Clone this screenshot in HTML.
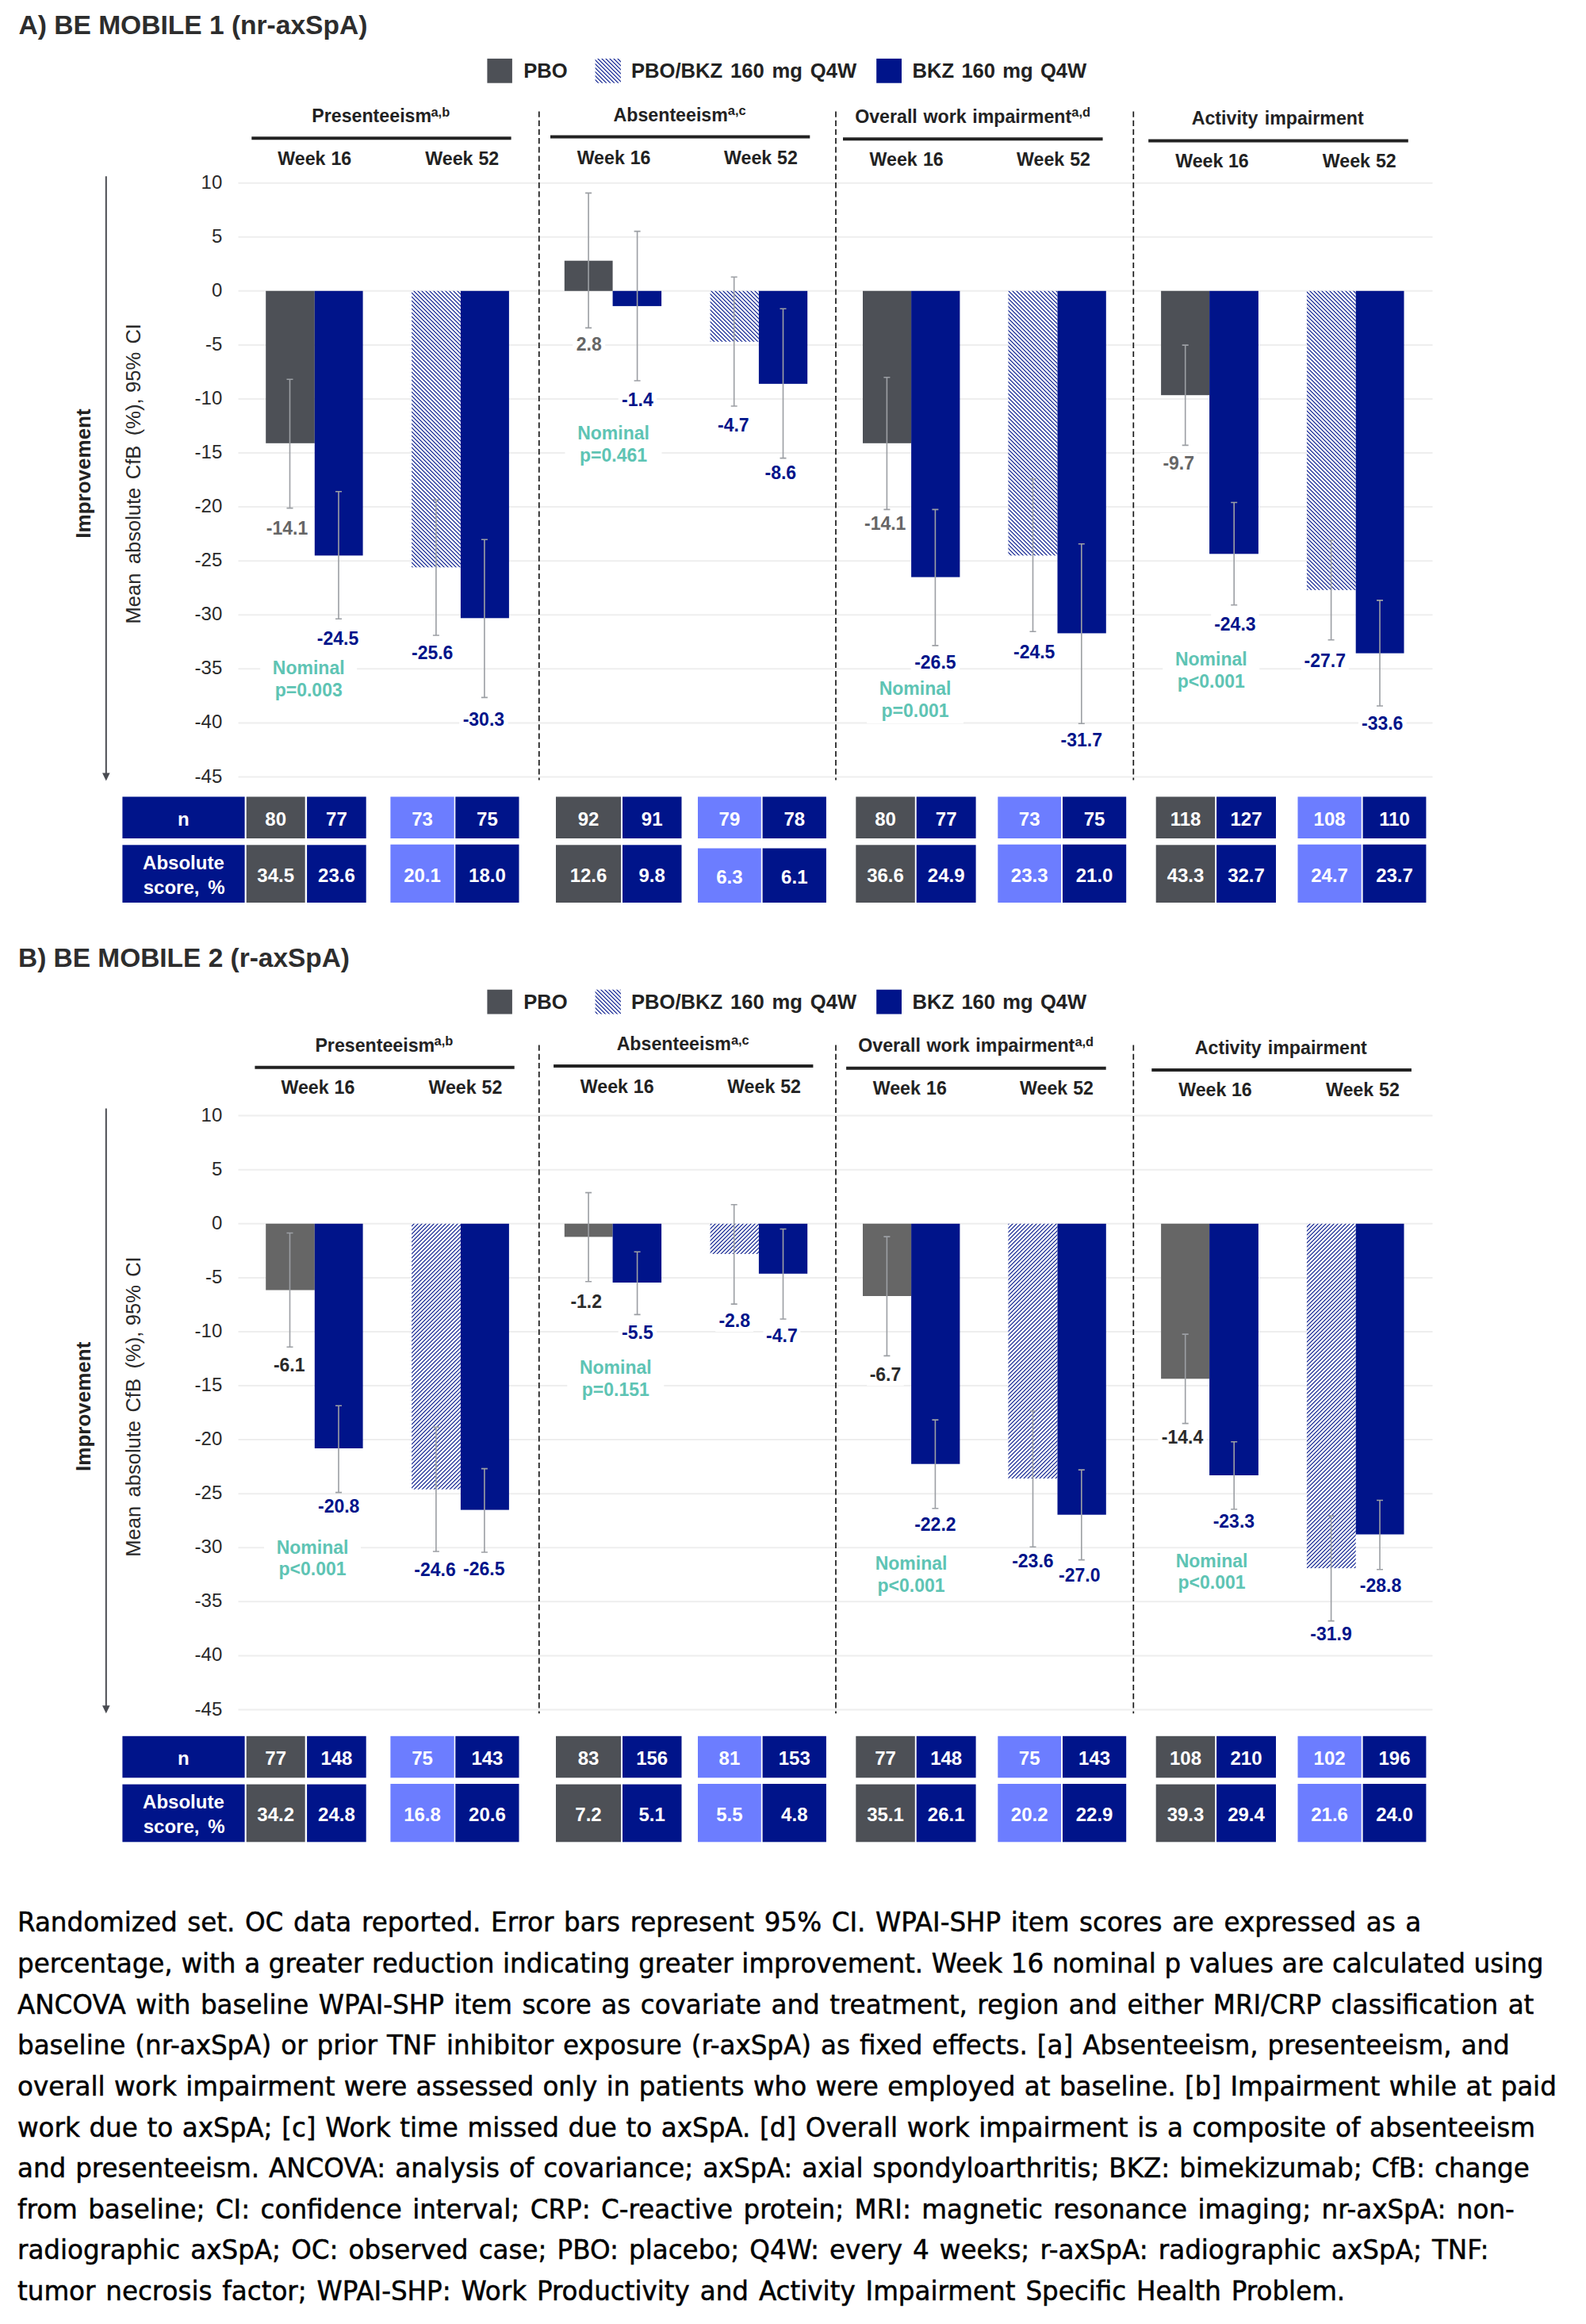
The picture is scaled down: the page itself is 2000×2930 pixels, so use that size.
<!DOCTYPE html>
<html lang="en"><head><meta charset="utf-8"><title>BE MOBILE WPAI-SHP</title>
<style>
html,body{margin:0;padding:0;background:#fff}
body{width:2000px;height:2930px;overflow:hidden}
svg{display:block;position:absolute;left:0;top:0}
svg text{font-family:"Liberation Sans",Arial,sans-serif}
svg .fn text{font-family:"DejaVu Sans","Liberation Sans",sans-serif;font-size:33.3px;fill:#000;stroke:#000;stroke-width:0.5px}
</style></head><body>
<svg width="2000" height="2930" viewBox="0 0 2000 2930">
<defs>
<pattern id="hA" width="5" height="5" patternUnits="userSpaceOnUse"><rect width="5" height="5" fill="#fff"/><path d="M-1 -1L6 6M-1 4L1 6M4 -1L6 1" stroke="#00148A" stroke-width="1.15"/></pattern>
<pattern id="hB" width="5" height="5" patternUnits="userSpaceOnUse"><rect width="5" height="5" fill="#fff"/><path d="M-1 6L6 -1M-1 1L1 -1M4 6L6 4" stroke="#00148A" stroke-width="1.15"/></pattern>
</defs>
<rect width="2000" height="2930" fill="#fff"/>
<text x="23.5" y="42.5" font-size="33.55" font-weight="bold" fill="#2D2D2D">A) BE MOBILE 1 (nr-axSpA)</text>
<text x="23.0" y="1218.5" font-size="33.45" font-weight="bold" fill="#2D2D2D">B) BE MOBILE 2 (r-axSpA)</text>
<rect x="614.4" y="73.9" width="31.5" height="30.8" fill="#4D5056"/>
<rect x="750.6" y="73.9" width="32.3" height="30.8" fill="url(#hA)"/>
<rect x="1105.2" y="73.9" width="31.8" height="30.8" fill="#00148A"/>
<text x="687.9" y="97.9" font-size="25.6" fill="#222" text-anchor="middle" font-weight="bold">PBO</text>
<text x="938.1" y="97.9" font-size="25.6" fill="#222" text-anchor="middle" font-weight="bold" word-spacing="2.75">PBO/BKZ 160 mg Q4W</text>
<text x="1260.4" y="97.9" font-size="25.6" fill="#222" text-anchor="middle" font-weight="bold" word-spacing="2.11">BKZ 160 mg Q4W</text>
<rect x="614.4" y="1247.7" width="31.5" height="30.8" fill="#4D5056"/>
<rect x="750.6" y="1247.7" width="32.3" height="30.8" fill="url(#hA)"/>
<rect x="1105.2" y="1247.7" width="31.8" height="30.8" fill="#00148A"/>
<text x="687.9" y="1271.7" font-size="25.6" fill="#222" text-anchor="middle" font-weight="bold">PBO</text>
<text x="938.1" y="1271.7" font-size="25.6" fill="#222" text-anchor="middle" font-weight="bold" word-spacing="2.75">PBO/BKZ 160 mg Q4W</text>
<text x="1260.4" y="1271.7" font-size="25.6" fill="#222" text-anchor="middle" font-weight="bold" word-spacing="2.11">BKZ 160 mg Q4W</text>
<text x="468.7" y="154.0" font-size="23.2" fill="#222" text-anchor="middle" font-weight="bold">Presenteeism</text>
<text x="543.5" y="146.5" font-size="16.4" font-weight="bold" fill="#222">a,b</text>
<line x1="317.3" x2="644.6" y1="174.2" y2="174.2" stroke="#222" stroke-width="4"/>
<text x="396.8" y="207.6" font-size="23.2" fill="#222" text-anchor="middle" font-weight="bold" word-spacing="0.46">Week 16</text>
<text x="582.8" y="207.6" font-size="23.2" fill="#222" text-anchor="middle" font-weight="bold" word-spacing="0.46">Week 52</text>
<text x="845.7" y="152.8" font-size="23.2" fill="#222" text-anchor="middle" font-weight="bold">Absenteeism</text>
<text x="917.8" y="145.3" font-size="16.4" font-weight="bold" fill="#222">a,c</text>
<line x1="694.0" x2="1021.3" y1="172.5" y2="172.5" stroke="#222" stroke-width="4"/>
<text x="774.1" y="206.5" font-size="23.2" fill="#222" text-anchor="middle" font-weight="bold" word-spacing="0.46">Week 16</text>
<text x="959.5" y="206.5" font-size="23.2" fill="#222" text-anchor="middle" font-weight="bold" word-spacing="0.46">Week 52</text>
<text x="1214.7" y="154.7" font-size="23.2" fill="#222" text-anchor="middle" font-weight="bold" word-spacing="1.22">Overall work impairment</text>
<text x="1351.3" y="147.2" font-size="16.4" font-weight="bold" fill="#222">a,d</text>
<line x1="1063.0" x2="1390.6" y1="175.3" y2="175.3" stroke="#222" stroke-width="4"/>
<text x="1143.2" y="208.9" font-size="23.2" fill="#222" text-anchor="middle" font-weight="bold" word-spacing="0.76">Week 16</text>
<text x="1328.5" y="208.9" font-size="23.2" fill="#222" text-anchor="middle" font-weight="bold" word-spacing="0.56">Week 52</text>
<text x="1611.2" y="157.2" font-size="23.2" fill="#222" text-anchor="middle" font-weight="bold" word-spacing="1.80">Activity impairment</text>
<line x1="1448.2" x2="1775.8" y1="177.5" y2="177.5" stroke="#222" stroke-width="4"/>
<text x="1528.5" y="210.8" font-size="23.2" fill="#222" text-anchor="middle" font-weight="bold" word-spacing="0.16">Week 16</text>
<text x="1714.3" y="210.8" font-size="23.2" fill="#222" text-anchor="middle" font-weight="bold" word-spacing="0.46">Week 52</text>
<text x="472.8" y="1325.5" font-size="23.2" fill="#222" text-anchor="middle" font-weight="bold">Presenteeism</text>
<text x="547.6" y="1318.0" font-size="16.4" font-weight="bold" fill="#222">a,b</text>
<line x1="321.4" x2="648.7" y1="1345.7" y2="1345.7" stroke="#222" stroke-width="4"/>
<text x="400.9" y="1379.1" font-size="23.2" fill="#222" text-anchor="middle" font-weight="bold" word-spacing="0.46">Week 16</text>
<text x="586.9" y="1379.1" font-size="23.2" fill="#222" text-anchor="middle" font-weight="bold" word-spacing="0.46">Week 52</text>
<text x="849.8" y="1324.3" font-size="23.2" fill="#222" text-anchor="middle" font-weight="bold">Absenteeism</text>
<text x="921.9" y="1316.8" font-size="16.4" font-weight="bold" fill="#222">a,c</text>
<line x1="698.1" x2="1025.4" y1="1344.0" y2="1344.0" stroke="#222" stroke-width="4"/>
<text x="778.2" y="1378.0" font-size="23.2" fill="#222" text-anchor="middle" font-weight="bold" word-spacing="0.46">Week 16</text>
<text x="963.6" y="1378.0" font-size="23.2" fill="#222" text-anchor="middle" font-weight="bold" word-spacing="0.46">Week 52</text>
<text x="1218.8" y="1326.2" font-size="23.2" fill="#222" text-anchor="middle" font-weight="bold" word-spacing="1.22">Overall work impairment</text>
<text x="1355.4" y="1318.7" font-size="16.4" font-weight="bold" fill="#222">a,d</text>
<line x1="1067.1" x2="1394.7" y1="1346.8" y2="1346.8" stroke="#222" stroke-width="4"/>
<text x="1147.3" y="1380.4" font-size="23.2" fill="#222" text-anchor="middle" font-weight="bold" word-spacing="0.76">Week 16</text>
<text x="1332.5" y="1380.4" font-size="23.2" fill="#222" text-anchor="middle" font-weight="bold" word-spacing="0.56">Week 52</text>
<text x="1615.3" y="1328.7" font-size="23.2" fill="#222" text-anchor="middle" font-weight="bold" word-spacing="1.80">Activity impairment</text>
<line x1="1452.3" x2="1779.9" y1="1349.0" y2="1349.0" stroke="#222" stroke-width="4"/>
<text x="1532.5" y="1382.3" font-size="23.2" fill="#222" text-anchor="middle" font-weight="bold" word-spacing="0.16">Week 16</text>
<text x="1718.4" y="1382.3" font-size="23.2" fill="#222" text-anchor="middle" font-weight="bold" word-spacing="0.46">Week 52</text>
<line x1="300.5" x2="1806.5" y1="230.7" y2="230.7" stroke="#EEEEEE" stroke-width="2"/>
<text x="280.3" y="237.7" font-size="24" fill="#2A2A2A" text-anchor="end">10</text>
<line x1="300.5" x2="1806.5" y1="298.7" y2="298.7" stroke="#EEEEEE" stroke-width="2"/>
<text x="280.3" y="305.7" font-size="24" fill="#2A2A2A" text-anchor="end">5</text>
<line x1="300.5" x2="1806.5" y1="366.8" y2="366.8" stroke="#EEEEEE" stroke-width="2"/>
<text x="280.3" y="373.8" font-size="24" fill="#2A2A2A" text-anchor="end">0</text>
<line x1="300.5" x2="1806.5" y1="434.9" y2="434.9" stroke="#EEEEEE" stroke-width="2"/>
<text x="280.3" y="441.9" font-size="24" fill="#2A2A2A" text-anchor="end">-5</text>
<line x1="300.5" x2="1806.5" y1="503.0" y2="503.0" stroke="#EEEEEE" stroke-width="2"/>
<text x="280.3" y="510.0" font-size="24" fill="#2A2A2A" text-anchor="end">-10</text>
<line x1="300.5" x2="1806.5" y1="571.0" y2="571.0" stroke="#EEEEEE" stroke-width="2"/>
<text x="280.3" y="578.0" font-size="24" fill="#2A2A2A" text-anchor="end">-15</text>
<line x1="300.5" x2="1806.5" y1="639.1" y2="639.1" stroke="#EEEEEE" stroke-width="2"/>
<text x="280.3" y="646.1" font-size="24" fill="#2A2A2A" text-anchor="end">-20</text>
<line x1="300.5" x2="1806.5" y1="707.2" y2="707.2" stroke="#EEEEEE" stroke-width="2"/>
<text x="280.3" y="714.2" font-size="24" fill="#2A2A2A" text-anchor="end">-25</text>
<line x1="300.5" x2="1806.5" y1="775.2" y2="775.2" stroke="#EEEEEE" stroke-width="2"/>
<text x="280.3" y="782.2" font-size="24" fill="#2A2A2A" text-anchor="end">-30</text>
<line x1="300.5" x2="1806.5" y1="843.3" y2="843.3" stroke="#EEEEEE" stroke-width="2"/>
<text x="280.3" y="850.3" font-size="24" fill="#2A2A2A" text-anchor="end">-35</text>
<line x1="300.5" x2="1806.5" y1="911.4" y2="911.4" stroke="#EEEEEE" stroke-width="2"/>
<text x="280.3" y="918.4" font-size="24" fill="#2A2A2A" text-anchor="end">-40</text>
<line x1="300.5" x2="1806.5" y1="979.5" y2="979.5" stroke="#EEEEEE" stroke-width="2"/>
<text x="280.3" y="986.5" font-size="24" fill="#2A2A2A" text-anchor="end">-45</text>
<rect x="332.5" y="652.5" width="59.0" height="27.0" fill="#fff"/>
<rect x="395.2" y="791.8" width="61.6" height="27.0" fill="#fff"/>
<rect x="514.6" y="810.3" width="61.2" height="27.0" fill="#fff"/>
<rect x="579.2" y="893.8" width="61.4" height="27.0" fill="#fff"/>
<rect x="722.2" y="420.6" width="41.0" height="27.0" fill="#fff"/>
<rect x="779.7" y="490.5" width="48.3" height="27.0" fill="#fff"/>
<rect x="901.5" y="522.8" width="46.5" height="27.0" fill="#fff"/>
<rect x="960.0" y="583.2" width="48.6" height="27.0" fill="#fff"/>
<rect x="1086.3" y="647.1" width="59.7" height="27.0" fill="#fff"/>
<rect x="1148.6" y="821.9" width="61.7" height="27.0" fill="#fff"/>
<rect x="1273.4" y="808.5" width="61.6" height="27.0" fill="#fff"/>
<rect x="1333.5" y="919.5" width="60.5" height="27.0" fill="#fff"/>
<rect x="1462.9" y="571.2" width="46.6" height="27.0" fill="#fff"/>
<rect x="1527.2" y="773.7" width="60.4" height="27.0" fill="#fff"/>
<rect x="1640.9" y="820.4" width="59.9" height="27.0" fill="#fff"/>
<rect x="1713.0" y="899.3" width="60.5" height="27.0" fill="#fff"/>
<rect x="328.2" y="829.4" width="122.0" height="56.6" fill="#fff"/>
<rect x="712.5" y="532.8" width="122.0" height="56.8" fill="#fff"/>
<rect x="1093.0" y="855.2" width="122.0" height="56.7" fill="#fff"/>
<rect x="1466.3" y="818.1" width="122.0" height="56.7" fill="#fff"/>
<line x1="679.8" x2="679.8" y1="140.5" y2="983.5" stroke="#1a1a1a" stroke-width="1.7" stroke-dasharray="7.2 4"/>
<line x1="1054.0" x2="1054.0" y1="140.5" y2="983.5" stroke="#1a1a1a" stroke-width="1.7" stroke-dasharray="7.2 4"/>
<line x1="1429.3" x2="1429.3" y1="140.5" y2="983.5" stroke="#1a1a1a" stroke-width="1.7" stroke-dasharray="7.2 4"/>
<rect x="335.2" y="366.8" width="61.6" height="192.0" fill="#4D5056"/>
<rect x="396.8" y="366.8" width="60.8" height="333.6" fill="#00148A"/>
<rect x="519.1" y="366.8" width="61.8" height="348.5" fill="url(#hA)"/>
<rect x="580.9" y="366.8" width="61.0" height="412.5" fill="#00148A"/>
<rect x="711.8" y="328.7" width="60.8" height="38.1" fill="#4D5056"/>
<rect x="772.6" y="366.8" width="61.5" height="19.1" fill="#00148A"/>
<rect x="895.6" y="366.8" width="61.3" height="64.0" fill="url(#hA)"/>
<rect x="956.9" y="366.8" width="61.3" height="117.1" fill="#00148A"/>
<rect x="1088.0" y="366.8" width="61.1" height="192.0" fill="#4D5056"/>
<rect x="1149.1" y="366.8" width="61.3" height="360.8" fill="#00148A"/>
<rect x="1271.4" y="366.8" width="62.1" height="333.6" fill="url(#hA)"/>
<rect x="1333.5" y="366.8" width="61.3" height="431.6" fill="#00148A"/>
<rect x="1464.1" y="366.8" width="61.0" height="131.4" fill="#4D5056"/>
<rect x="1525.1" y="366.8" width="61.8" height="331.5" fill="#00148A"/>
<rect x="1647.9" y="366.8" width="61.8" height="377.1" fill="url(#hA)"/>
<rect x="1709.7" y="366.8" width="60.8" height="456.8" fill="#00148A"/>
<path d="M365.5 478.2V640.6M361.5 478.2h8M361.5 640.6h8" stroke="#9C9FA4" stroke-width="1.6" fill="none"/>
<path d="M427.0 619.7V780.3M423.0 619.7h8M423.0 780.3h8" stroke="#9C9FA4" stroke-width="1.6" fill="none"/>
<path d="M549.9 630.3V801.0M545.9 630.3h8M545.9 801.0h8" stroke="#9C9FA4" stroke-width="1.6" fill="none"/>
<path d="M610.9 680.2V879.4M606.9 680.2h8M606.9 879.4h8" stroke="#9C9FA4" stroke-width="1.6" fill="none"/>
<path d="M742.1 243.4V413.4M738.1 243.4h8M738.1 413.4h8" stroke="#9C9FA4" stroke-width="1.6" fill="none"/>
<path d="M803.6 291.6V480.0M799.6 291.6h8M799.6 480.0h8" stroke="#9C9FA4" stroke-width="1.6" fill="none"/>
<path d="M925.7 349.3V512.0M921.7 349.3h8M921.7 512.0h8" stroke="#9C9FA4" stroke-width="1.6" fill="none"/>
<path d="M987.5 389.2V577.6M983.5 389.2h8M983.5 577.6h8" stroke="#9C9FA4" stroke-width="1.6" fill="none"/>
<path d="M1118.4 475.7V642.4M1114.4 475.7h8M1114.4 642.4h8" stroke="#9C9FA4" stroke-width="1.6" fill="none"/>
<path d="M1179.4 642.4V813.9M1175.4 642.4h8M1175.4 813.9h8" stroke="#9C9FA4" stroke-width="1.6" fill="none"/>
<path d="M1302.5 603.8V796.2M1298.5 603.8h8M1298.5 796.2h8" stroke="#9C9FA4" stroke-width="1.6" fill="none"/>
<path d="M1363.8 685.8V912.2M1359.8 685.8h8M1359.8 912.2h8" stroke="#9C9FA4" stroke-width="1.6" fill="none"/>
<path d="M1494.7 435.1V561.4M1490.7 435.1h8M1490.7 561.4h8" stroke="#9C9FA4" stroke-width="1.6" fill="none"/>
<path d="M1556.2 633.5V762.7M1552.2 633.5h8M1552.2 762.7h8" stroke="#9C9FA4" stroke-width="1.6" fill="none"/>
<path d="M1678.6 681.3V806.8M1674.6 681.3h8M1674.6 806.8h8" stroke="#9C9FA4" stroke-width="1.6" fill="none"/>
<path d="M1740.0 756.9V890.0M1736.0 756.9h8M1736.0 890.0h8" stroke="#9C9FA4" stroke-width="1.6" fill="none"/>
<text x="362.0" y="673.5" font-size="23" fill="#666666" text-anchor="middle" font-weight="bold">-14.1</text>
<text x="426.0" y="812.8" font-size="23" fill="#00148A" text-anchor="middle" font-weight="bold">-24.5</text>
<text x="545.2" y="831.3" font-size="23" fill="#00148A" text-anchor="middle" font-weight="bold">-25.6</text>
<text x="609.9" y="914.8" font-size="23" fill="#00148A" text-anchor="middle" font-weight="bold">-30.3</text>
<text x="742.7" y="441.6" font-size="23" fill="#666666" text-anchor="middle" font-weight="bold">2.8</text>
<text x="803.9" y="511.5" font-size="23" fill="#00148A" text-anchor="middle" font-weight="bold">-1.4</text>
<text x="924.8" y="543.8" font-size="23" fill="#00148A" text-anchor="middle" font-weight="bold">-4.7</text>
<text x="984.3" y="604.2" font-size="23" fill="#00148A" text-anchor="middle" font-weight="bold">-8.6</text>
<text x="1116.2" y="668.1" font-size="23" fill="#666666" text-anchor="middle" font-weight="bold">-14.1</text>
<text x="1179.4" y="842.9" font-size="23" fill="#00148A" text-anchor="middle" font-weight="bold">-26.5</text>
<text x="1304.2" y="829.5" font-size="23" fill="#00148A" text-anchor="middle" font-weight="bold">-24.5</text>
<text x="1363.8" y="940.5" font-size="23" fill="#00148A" text-anchor="middle" font-weight="bold">-31.7</text>
<text x="1486.2" y="592.2" font-size="23" fill="#666666" text-anchor="middle" font-weight="bold">-9.7</text>
<text x="1557.4" y="794.7" font-size="23" fill="#00148A" text-anchor="middle" font-weight="bold">-24.3</text>
<text x="1670.8" y="841.4" font-size="23" fill="#00148A" text-anchor="middle" font-weight="bold">-27.7</text>
<text x="1743.2" y="920.3" font-size="23" fill="#00148A" text-anchor="middle" font-weight="bold">-33.6</text>
<text x="389.2" y="850.4" font-size="23" fill="#5EC4B4" text-anchor="middle" font-weight="bold">Nominal</text>
<text x="389.2" y="878.0" font-size="23" fill="#5EC4B4" text-anchor="middle" font-weight="bold">p=0.003</text>
<text x="773.5" y="553.8" font-size="23" fill="#5EC4B4" text-anchor="middle" font-weight="bold">Nominal</text>
<text x="773.5" y="581.6" font-size="23" fill="#5EC4B4" text-anchor="middle" font-weight="bold">p=0.461</text>
<text x="1154.0" y="876.2" font-size="23" fill="#5EC4B4" text-anchor="middle" font-weight="bold">Nominal</text>
<text x="1154.0" y="903.9" font-size="23" fill="#5EC4B4" text-anchor="middle" font-weight="bold">p=0.001</text>
<text x="1527.3" y="839.1" font-size="23" fill="#5EC4B4" text-anchor="middle" font-weight="bold">Nominal</text>
<text x="1527.3" y="866.8" font-size="23" fill="#5EC4B4" text-anchor="middle" font-weight="bold">p&lt;0.001</text>
<line x1="133.8" x2="133.8" y1="222.2" y2="976.6" stroke="#494B51" stroke-width="2"/>
<path d="M129 974.6h9.6l-4.8 10z" fill="#494B51"/>
<line x1="300.5" x2="1806.5" y1="1406.6" y2="1406.6" stroke="#EEEEEE" stroke-width="2"/>
<text x="280.3" y="1413.6" font-size="24" fill="#2A2A2A" text-anchor="end">10</text>
<line x1="300.5" x2="1806.5" y1="1474.7" y2="1474.7" stroke="#EEEEEE" stroke-width="2"/>
<text x="280.3" y="1481.7" font-size="24" fill="#2A2A2A" text-anchor="end">5</text>
<line x1="300.5" x2="1806.5" y1="1542.8" y2="1542.8" stroke="#EEEEEE" stroke-width="2"/>
<text x="280.3" y="1549.8" font-size="24" fill="#2A2A2A" text-anchor="end">0</text>
<line x1="300.5" x2="1806.5" y1="1610.9" y2="1610.9" stroke="#EEEEEE" stroke-width="2"/>
<text x="280.3" y="1617.9" font-size="24" fill="#2A2A2A" text-anchor="end">-5</text>
<line x1="300.5" x2="1806.5" y1="1679.0" y2="1679.0" stroke="#EEEEEE" stroke-width="2"/>
<text x="280.3" y="1686.0" font-size="24" fill="#2A2A2A" text-anchor="end">-10</text>
<line x1="300.5" x2="1806.5" y1="1747.0" y2="1747.0" stroke="#EEEEEE" stroke-width="2"/>
<text x="280.3" y="1754.0" font-size="24" fill="#2A2A2A" text-anchor="end">-15</text>
<line x1="300.5" x2="1806.5" y1="1815.1" y2="1815.1" stroke="#EEEEEE" stroke-width="2"/>
<text x="280.3" y="1822.1" font-size="24" fill="#2A2A2A" text-anchor="end">-20</text>
<line x1="300.5" x2="1806.5" y1="1883.2" y2="1883.2" stroke="#EEEEEE" stroke-width="2"/>
<text x="280.3" y="1890.2" font-size="24" fill="#2A2A2A" text-anchor="end">-25</text>
<line x1="300.5" x2="1806.5" y1="1951.2" y2="1951.2" stroke="#EEEEEE" stroke-width="2"/>
<text x="280.3" y="1958.2" font-size="24" fill="#2A2A2A" text-anchor="end">-30</text>
<line x1="300.5" x2="1806.5" y1="2019.3" y2="2019.3" stroke="#EEEEEE" stroke-width="2"/>
<text x="280.3" y="2026.3" font-size="24" fill="#2A2A2A" text-anchor="end">-35</text>
<line x1="300.5" x2="1806.5" y1="2087.4" y2="2087.4" stroke="#EEEEEE" stroke-width="2"/>
<text x="280.3" y="2094.4" font-size="24" fill="#2A2A2A" text-anchor="end">-40</text>
<line x1="300.5" x2="1806.5" y1="2155.5" y2="2155.5" stroke="#EEEEEE" stroke-width="2"/>
<text x="280.3" y="2162.5" font-size="24" fill="#2A2A2A" text-anchor="end">-45</text>
<rect x="341.8" y="1708.3" width="45.8" height="27.0" fill="#fff"/>
<rect x="397.0" y="1885.9" width="60.5" height="27.0" fill="#fff"/>
<rect x="517.9" y="1966.3" width="61.1" height="27.0" fill="#fff"/>
<rect x="579.7" y="1965.3" width="61.2" height="27.0" fill="#fff"/>
<rect x="715.1" y="1628.4" width="48.1" height="27.0" fill="#fff"/>
<rect x="779.7" y="1667.2" width="48.3" height="27.0" fill="#fff"/>
<rect x="902.2" y="1652.1" width="47.9" height="27.0" fill="#fff"/>
<rect x="962.5" y="1671.2" width="46.8" height="27.0" fill="#fff"/>
<rect x="1093.2" y="1720.2" width="46.5" height="27.0" fill="#fff"/>
<rect x="1148.6" y="1908.6" width="61.7" height="27.0" fill="#fff"/>
<rect x="1271.9" y="1954.5" width="61.0" height="27.0" fill="#fff"/>
<rect x="1331.0" y="1973.4" width="60.7" height="27.0" fill="#fff"/>
<rect x="1460.4" y="1799.4" width="61.2" height="27.0" fill="#fff"/>
<rect x="1525.4" y="1905.3" width="61.0" height="27.0" fill="#fff"/>
<rect x="1648.0" y="2047.3" width="60.9" height="27.0" fill="#fff"/>
<rect x="1710.5" y="1986.0" width="61.0" height="27.0" fill="#fff"/>
<rect x="333.0" y="1937.6" width="122.0" height="56.7" fill="#fff"/>
<rect x="715.3" y="1710.8" width="122.0" height="56.8" fill="#fff"/>
<rect x="1088.0" y="1958.2" width="122.0" height="56.3" fill="#fff"/>
<rect x="1467.0" y="1954.5" width="122.0" height="56.7" fill="#fff"/>
<line x1="679.8" x2="679.8" y1="1317.5" y2="2160.3" stroke="#1a1a1a" stroke-width="1.7" stroke-dasharray="7.2 4"/>
<line x1="1054.0" x2="1054.0" y1="1317.5" y2="2160.3" stroke="#1a1a1a" stroke-width="1.7" stroke-dasharray="7.2 4"/>
<line x1="1429.3" x2="1429.3" y1="1317.5" y2="2160.3" stroke="#1a1a1a" stroke-width="1.7" stroke-dasharray="7.2 4"/>
<rect x="335.2" y="1542.8" width="61.6" height="83.7" fill="#666666"/>
<rect x="396.8" y="1542.8" width="60.8" height="283.2" fill="#00148A"/>
<rect x="519.1" y="1542.8" width="61.8" height="334.9" fill="url(#hB)"/>
<rect x="580.9" y="1542.8" width="61.0" height="360.8" fill="#00148A"/>
<rect x="711.8" y="1542.8" width="60.8" height="16.6" fill="#666666"/>
<rect x="772.6" y="1542.8" width="61.5" height="74.2" fill="#00148A"/>
<rect x="895.6" y="1542.8" width="61.3" height="38.1" fill="url(#hB)"/>
<rect x="956.9" y="1542.8" width="61.3" height="63.0" fill="#00148A"/>
<rect x="1088.0" y="1542.8" width="61.1" height="91.2" fill="#666666"/>
<rect x="1149.1" y="1542.8" width="61.3" height="302.9" fill="#00148A"/>
<rect x="1271.4" y="1542.8" width="62.1" height="321.3" fill="url(#hB)"/>
<rect x="1333.5" y="1542.8" width="61.3" height="366.9" fill="#00148A"/>
<rect x="1464.1" y="1542.8" width="61.0" height="195.5" fill="#666666"/>
<rect x="1525.1" y="1542.8" width="61.8" height="317.2" fill="#00148A"/>
<rect x="1647.9" y="1542.8" width="61.8" height="434.3" fill="url(#hB)"/>
<rect x="1709.7" y="1542.8" width="60.8" height="391.7" fill="#00148A"/>
<path d="M365.5 1554.5V1698.3M361.5 1554.5h8M361.5 1698.3h8" stroke="#9C9FA4" stroke-width="1.6" fill="none"/>
<path d="M427.0 1772.2V1881.6M423.0 1772.2h8M423.0 1881.6h8" stroke="#9C9FA4" stroke-width="1.6" fill="none"/>
<path d="M549.9 1799.4V1956.0M545.9 1799.4h8M545.9 1956.0h8" stroke="#9C9FA4" stroke-width="1.6" fill="none"/>
<path d="M610.9 1851.6V1957.0M606.9 1851.6h8M606.9 1957.0h8" stroke="#9C9FA4" stroke-width="1.6" fill="none"/>
<path d="M742.1 1503.6V1615.8M738.1 1503.6h8M738.1 1615.8h8" stroke="#9C9FA4" stroke-width="1.6" fill="none"/>
<path d="M803.6 1578.2V1657.4M799.6 1578.2h8M799.6 1657.4h8" stroke="#9C9FA4" stroke-width="1.6" fill="none"/>
<path d="M925.7 1518.7V1644.1M921.7 1518.7h8M921.7 1644.1h8" stroke="#9C9FA4" stroke-width="1.6" fill="none"/>
<path d="M987.5 1549.5V1663.0M983.5 1549.5h8M983.5 1663.0h8" stroke="#9C9FA4" stroke-width="1.6" fill="none"/>
<path d="M1118.4 1559.1V1709.4M1114.4 1559.1h8M1114.4 1709.4h8" stroke="#9C9FA4" stroke-width="1.6" fill="none"/>
<path d="M1179.4 1790.1V1901.8M1175.4 1790.1h8M1175.4 1901.8h8" stroke="#9C9FA4" stroke-width="1.6" fill="none"/>
<path d="M1302.5 1779.0V1950.2M1298.5 1779.0h8M1298.5 1950.2h8" stroke="#9C9FA4" stroke-width="1.6" fill="none"/>
<path d="M1363.8 1853.1V1966.6M1359.8 1853.1h8M1359.8 1966.6h8" stroke="#9C9FA4" stroke-width="1.6" fill="none"/>
<path d="M1494.7 1682.1V1794.6M1490.7 1682.1h8M1490.7 1794.6h8" stroke="#9C9FA4" stroke-width="1.6" fill="none"/>
<path d="M1556.2 1817.8V1902.8M1552.2 1817.8h8M1552.2 1902.8h8" stroke="#9C9FA4" stroke-width="1.6" fill="none"/>
<path d="M1678.6 1911.1V2043.6M1674.6 1911.1h8M1674.6 2043.6h8" stroke="#9C9FA4" stroke-width="1.6" fill="none"/>
<path d="M1740.0 1891.5V1978.7M1736.0 1891.5h8M1736.0 1978.7h8" stroke="#9C9FA4" stroke-width="1.6" fill="none"/>
<text x="364.7" y="1729.3" font-size="23" fill="#2B2B2B" text-anchor="middle" font-weight="bold">-6.1</text>
<text x="427.2" y="1906.9" font-size="23" fill="#00148A" text-anchor="middle" font-weight="bold">-20.8</text>
<text x="548.5" y="1987.3" font-size="23" fill="#00148A" text-anchor="middle" font-weight="bold">-24.6</text>
<text x="610.3" y="1986.3" font-size="23" fill="#00148A" text-anchor="middle" font-weight="bold">-26.5</text>
<text x="739.2" y="1649.4" font-size="23" fill="#2B2B2B" text-anchor="middle" font-weight="bold">-1.2</text>
<text x="803.9" y="1688.2" font-size="23" fill="#00148A" text-anchor="middle" font-weight="bold">-5.5</text>
<text x="926.2" y="1673.1" font-size="23" fill="#00148A" text-anchor="middle" font-weight="bold">-2.8</text>
<text x="985.9" y="1692.2" font-size="23" fill="#00148A" text-anchor="middle" font-weight="bold">-4.7</text>
<text x="1116.5" y="1741.2" font-size="23" fill="#2B2B2B" text-anchor="middle" font-weight="bold">-6.7</text>
<text x="1179.4" y="1929.6" font-size="23" fill="#00148A" text-anchor="middle" font-weight="bold">-22.2</text>
<text x="1302.4" y="1975.5" font-size="23" fill="#00148A" text-anchor="middle" font-weight="bold">-23.6</text>
<text x="1361.3" y="1994.4" font-size="23" fill="#00148A" text-anchor="middle" font-weight="bold">-27.0</text>
<text x="1491.0" y="1820.4" font-size="23" fill="#2B2B2B" text-anchor="middle" font-weight="bold">-14.4</text>
<text x="1555.9" y="1926.3" font-size="23" fill="#00148A" text-anchor="middle" font-weight="bold">-23.3</text>
<text x="1678.5" y="2068.3" font-size="23" fill="#00148A" text-anchor="middle" font-weight="bold">-31.9</text>
<text x="1741.0" y="2007.0" font-size="23" fill="#00148A" text-anchor="middle" font-weight="bold">-28.8</text>
<text x="394.0" y="1958.6" font-size="23" fill="#5EC4B4" text-anchor="middle" font-weight="bold">Nominal</text>
<text x="394.0" y="1986.3" font-size="23" fill="#5EC4B4" text-anchor="middle" font-weight="bold">p&lt;0.001</text>
<text x="776.3" y="1731.8" font-size="23" fill="#5EC4B4" text-anchor="middle" font-weight="bold">Nominal</text>
<text x="776.3" y="1759.6" font-size="23" fill="#5EC4B4" text-anchor="middle" font-weight="bold">p=0.151</text>
<text x="1149.0" y="1979.2" font-size="23" fill="#5EC4B4" text-anchor="middle" font-weight="bold">Nominal</text>
<text x="1149.0" y="2006.5" font-size="23" fill="#5EC4B4" text-anchor="middle" font-weight="bold">p&lt;0.001</text>
<text x="1528.0" y="1975.5" font-size="23" fill="#5EC4B4" text-anchor="middle" font-weight="bold">Nominal</text>
<text x="1528.0" y="2003.2" font-size="23" fill="#5EC4B4" text-anchor="middle" font-weight="bold">p&lt;0.001</text>
<line x1="133.8" x2="133.8" y1="1397.6" y2="2152.2" stroke="#494B51" stroke-width="2"/>
<path d="M129 2150.2h9.6l-4.8 10z" fill="#494B51"/>
<text transform="translate(113.5 597.0) rotate(-90)" font-size="26" font-weight="bold" fill="#222" text-anchor="middle">Improvement</text>
<text transform="translate(177.2 754.5) rotate(-90)" font-size="25.5" fill="#2A2A2A" text-anchor="middle">Mean</text>
<text transform="translate(177.2 662.9) rotate(-90)" font-size="25.5" fill="#2A2A2A" text-anchor="middle">absolute</text>
<text transform="translate(177.2 583.0) rotate(-90)" font-size="25.5" fill="#2A2A2A" text-anchor="middle">CfB</text>
<text transform="translate(177.2 525.8) rotate(-90)" font-size="25.5" fill="#2A2A2A" text-anchor="middle">(%),</text>
<text transform="translate(177.2 469.4) rotate(-90)" font-size="25.5" fill="#2A2A2A" text-anchor="middle">95%</text>
<text transform="translate(177.2 420.8) rotate(-90)" font-size="25.5" fill="#2A2A2A" text-anchor="middle">CI</text>
<text transform="translate(113.5 1773.3) rotate(-90)" font-size="26" font-weight="bold" fill="#222" text-anchor="middle">Improvement</text>
<text transform="translate(177.2 1930.8) rotate(-90)" font-size="25.5" fill="#2A2A2A" text-anchor="middle">Mean</text>
<text transform="translate(177.2 1839.2) rotate(-90)" font-size="25.5" fill="#2A2A2A" text-anchor="middle">absolute</text>
<text transform="translate(177.2 1759.3) rotate(-90)" font-size="25.5" fill="#2A2A2A" text-anchor="middle">CfB</text>
<text transform="translate(177.2 1702.1) rotate(-90)" font-size="25.5" fill="#2A2A2A" text-anchor="middle">(%),</text>
<text transform="translate(177.2 1645.7) rotate(-90)" font-size="25.5" fill="#2A2A2A" text-anchor="middle">95%</text>
<text transform="translate(177.2 1597.1) rotate(-90)" font-size="25.5" fill="#2A2A2A" text-anchor="middle">CI</text>
<rect x="154.4" y="1004.5" width="154.2" height="52.5" fill="#00148A"/>
<rect x="154.4" y="1065.3" width="154.2" height="72.7" fill="#00148A"/>
<text x="231.4" y="1040.5" font-size="24" fill="#fff" text-anchor="middle" font-weight="bold">n</text>
<text x="231.4" y="1096.0" font-size="24" fill="#fff" text-anchor="middle" font-weight="bold">Absolute</text>
<text x="232.2" y="1127.0" font-size="24" fill="#fff" text-anchor="middle" font-weight="bold" word-spacing="4.28">score, %</text>
<rect x="310.7" y="1004.5" width="74.0" height="52.5" fill="#4D5056"/>
<rect x="387.1" y="1004.5" width="74.6" height="52.5" fill="#00148A"/>
<rect x="310.7" y="1065.3" width="74.0" height="72.7" fill="#4D5056"/>
<rect x="387.1" y="1065.3" width="74.6" height="72.7" fill="#00148A"/>
<text x="347.7" y="1040.5" font-size="24" fill="#fff" text-anchor="middle" font-weight="bold">80</text>
<text x="424.4" y="1040.5" font-size="24" fill="#fff" text-anchor="middle" font-weight="bold">77</text>
<text x="347.7" y="1111.6" font-size="24" fill="#fff" text-anchor="middle" font-weight="bold">34.5</text>
<text x="424.4" y="1111.6" font-size="24" fill="#fff" text-anchor="middle" font-weight="bold">23.6</text>
<rect x="492.4" y="1004.5" width="80.3" height="52.5" fill="#6C7DFF"/>
<rect x="574.3" y="1004.5" width="80.2" height="52.5" fill="#00148A"/>
<rect x="492.4" y="1064.7" width="80.3" height="73.3" fill="#6C7DFF"/>
<rect x="574.3" y="1064.7" width="80.2" height="73.3" fill="#00148A"/>
<text x="532.5" y="1040.5" font-size="24" fill="#fff" text-anchor="middle" font-weight="bold">73</text>
<text x="614.4" y="1040.5" font-size="24" fill="#fff" text-anchor="middle" font-weight="bold">75</text>
<text x="532.5" y="1111.6" font-size="24" fill="#fff" text-anchor="middle" font-weight="bold">20.1</text>
<text x="614.4" y="1111.6" font-size="24" fill="#fff" text-anchor="middle" font-weight="bold">18.0</text>
<rect x="701.0" y="1004.5" width="82.0" height="52.5" fill="#4D5056"/>
<rect x="785.0" y="1004.5" width="74.5" height="52.5" fill="#00148A"/>
<rect x="701.0" y="1065.3" width="82.0" height="72.7" fill="#4D5056"/>
<rect x="785.0" y="1065.3" width="74.5" height="72.7" fill="#00148A"/>
<text x="742.0" y="1040.5" font-size="24" fill="#fff" text-anchor="middle" font-weight="bold">92</text>
<text x="822.2" y="1040.5" font-size="24" fill="#fff" text-anchor="middle" font-weight="bold">91</text>
<text x="742.0" y="1111.6" font-size="24" fill="#fff" text-anchor="middle" font-weight="bold">12.6</text>
<text x="822.2" y="1111.6" font-size="24" fill="#fff" text-anchor="middle" font-weight="bold">9.8</text>
<rect x="880.0" y="1004.5" width="79.8" height="52.5" fill="#6C7DFF"/>
<rect x="961.6" y="1004.5" width="80.3" height="52.5" fill="#00148A"/>
<rect x="880.0" y="1069.5" width="79.8" height="68.5" fill="#6C7DFF"/>
<rect x="961.6" y="1069.5" width="80.3" height="68.5" fill="#00148A"/>
<text x="919.9" y="1040.5" font-size="24" fill="#fff" text-anchor="middle" font-weight="bold">79</text>
<text x="1001.8" y="1040.5" font-size="24" fill="#fff" text-anchor="middle" font-weight="bold">78</text>
<text x="919.9" y="1113.6" font-size="24" fill="#fff" text-anchor="middle" font-weight="bold">6.3</text>
<text x="1001.8" y="1113.6" font-size="24" fill="#fff" text-anchor="middle" font-weight="bold">6.1</text>
<rect x="1079.3" y="1004.5" width="74.5" height="52.5" fill="#4D5056"/>
<rect x="1155.7" y="1004.5" width="74.9" height="52.5" fill="#00148A"/>
<rect x="1079.3" y="1065.3" width="74.5" height="72.7" fill="#4D5056"/>
<rect x="1155.7" y="1065.3" width="74.9" height="72.7" fill="#00148A"/>
<text x="1116.5" y="1040.5" font-size="24" fill="#fff" text-anchor="middle" font-weight="bold">80</text>
<text x="1193.2" y="1040.5" font-size="24" fill="#fff" text-anchor="middle" font-weight="bold">77</text>
<text x="1116.5" y="1111.6" font-size="24" fill="#fff" text-anchor="middle" font-weight="bold">36.6</text>
<text x="1193.2" y="1111.6" font-size="24" fill="#fff" text-anchor="middle" font-weight="bold">24.9</text>
<rect x="1258.3" y="1004.5" width="79.8" height="52.5" fill="#6C7DFF"/>
<rect x="1340.0" y="1004.5" width="80.2" height="52.5" fill="#00148A"/>
<rect x="1258.3" y="1064.7" width="79.8" height="73.3" fill="#6C7DFF"/>
<rect x="1340.0" y="1064.7" width="80.2" height="73.3" fill="#00148A"/>
<text x="1298.2" y="1040.5" font-size="24" fill="#fff" text-anchor="middle" font-weight="bold">73</text>
<text x="1380.1" y="1040.5" font-size="24" fill="#fff" text-anchor="middle" font-weight="bold">75</text>
<text x="1298.2" y="1111.6" font-size="24" fill="#fff" text-anchor="middle" font-weight="bold">23.3</text>
<text x="1380.1" y="1111.6" font-size="24" fill="#fff" text-anchor="middle" font-weight="bold">21.0</text>
<rect x="1457.7" y="1004.5" width="74.5" height="52.5" fill="#4D5056"/>
<rect x="1534.1" y="1004.5" width="74.9" height="52.5" fill="#00148A"/>
<rect x="1457.7" y="1065.3" width="74.5" height="72.7" fill="#4D5056"/>
<rect x="1534.1" y="1065.3" width="74.9" height="72.7" fill="#00148A"/>
<text x="1495.0" y="1040.5" font-size="24" fill="#fff" text-anchor="middle" font-weight="bold">118</text>
<text x="1571.5" y="1040.5" font-size="24" fill="#fff" text-anchor="middle" font-weight="bold">127</text>
<text x="1495.0" y="1111.6" font-size="24" fill="#fff" text-anchor="middle" font-weight="bold">43.3</text>
<text x="1571.5" y="1111.6" font-size="24" fill="#fff" text-anchor="middle" font-weight="bold">32.7</text>
<rect x="1636.5" y="1004.5" width="80.2" height="52.5" fill="#6C7DFF"/>
<rect x="1718.6" y="1004.5" width="79.8" height="52.5" fill="#00148A"/>
<rect x="1636.5" y="1064.7" width="80.2" height="73.3" fill="#6C7DFF"/>
<rect x="1718.6" y="1064.7" width="79.8" height="73.3" fill="#00148A"/>
<text x="1676.6" y="1040.5" font-size="24" fill="#fff" text-anchor="middle" font-weight="bold">108</text>
<text x="1758.5" y="1040.5" font-size="24" fill="#fff" text-anchor="middle" font-weight="bold">110</text>
<text x="1676.6" y="1111.6" font-size="24" fill="#fff" text-anchor="middle" font-weight="bold">24.7</text>
<text x="1758.5" y="1111.6" font-size="24" fill="#fff" text-anchor="middle" font-weight="bold">23.7</text>
<rect x="154.4" y="2188.8" width="154.2" height="52.5" fill="#00148A"/>
<rect x="154.4" y="2249.6" width="154.2" height="72.7" fill="#00148A"/>
<text x="231.4" y="2224.8" font-size="24" fill="#fff" text-anchor="middle" font-weight="bold">n</text>
<text x="231.4" y="2280.3" font-size="24" fill="#fff" text-anchor="middle" font-weight="bold">Absolute</text>
<text x="232.2" y="2311.3" font-size="24" fill="#fff" text-anchor="middle" font-weight="bold" word-spacing="4.28">score, %</text>
<rect x="310.7" y="2188.8" width="74.0" height="52.5" fill="#4D5056"/>
<rect x="387.1" y="2188.8" width="74.6" height="52.5" fill="#00148A"/>
<rect x="310.7" y="2249.6" width="74.0" height="72.7" fill="#4D5056"/>
<rect x="387.1" y="2249.6" width="74.6" height="72.7" fill="#00148A"/>
<text x="347.7" y="2224.8" font-size="24" fill="#fff" text-anchor="middle" font-weight="bold">77</text>
<text x="424.4" y="2224.8" font-size="24" fill="#fff" text-anchor="middle" font-weight="bold">148</text>
<text x="347.7" y="2295.9" font-size="24" fill="#fff" text-anchor="middle" font-weight="bold">34.2</text>
<text x="424.4" y="2295.9" font-size="24" fill="#fff" text-anchor="middle" font-weight="bold">24.8</text>
<rect x="492.4" y="2188.8" width="80.3" height="52.5" fill="#6C7DFF"/>
<rect x="574.3" y="2188.8" width="80.2" height="52.5" fill="#00148A"/>
<rect x="492.4" y="2249.0" width="80.3" height="73.3" fill="#6C7DFF"/>
<rect x="574.3" y="2249.0" width="80.2" height="73.3" fill="#00148A"/>
<text x="532.5" y="2224.8" font-size="24" fill="#fff" text-anchor="middle" font-weight="bold">75</text>
<text x="614.4" y="2224.8" font-size="24" fill="#fff" text-anchor="middle" font-weight="bold">143</text>
<text x="532.5" y="2295.9" font-size="24" fill="#fff" text-anchor="middle" font-weight="bold">16.8</text>
<text x="614.4" y="2295.9" font-size="24" fill="#fff" text-anchor="middle" font-weight="bold">20.6</text>
<rect x="701.0" y="2188.8" width="82.0" height="52.5" fill="#4D5056"/>
<rect x="785.0" y="2188.8" width="74.5" height="52.5" fill="#00148A"/>
<rect x="701.0" y="2249.6" width="82.0" height="72.7" fill="#4D5056"/>
<rect x="785.0" y="2249.6" width="74.5" height="72.7" fill="#00148A"/>
<text x="742.0" y="2224.8" font-size="24" fill="#fff" text-anchor="middle" font-weight="bold">83</text>
<text x="822.2" y="2224.8" font-size="24" fill="#fff" text-anchor="middle" font-weight="bold">156</text>
<text x="742.0" y="2295.9" font-size="24" fill="#fff" text-anchor="middle" font-weight="bold">7.2</text>
<text x="822.2" y="2295.9" font-size="24" fill="#fff" text-anchor="middle" font-weight="bold">5.1</text>
<rect x="880.0" y="2188.8" width="79.8" height="52.5" fill="#6C7DFF"/>
<rect x="961.6" y="2188.8" width="80.3" height="52.5" fill="#00148A"/>
<rect x="880.0" y="2249.0" width="79.8" height="73.3" fill="#6C7DFF"/>
<rect x="961.6" y="2249.0" width="80.3" height="73.3" fill="#00148A"/>
<text x="919.9" y="2224.8" font-size="24" fill="#fff" text-anchor="middle" font-weight="bold">81</text>
<text x="1001.8" y="2224.8" font-size="24" fill="#fff" text-anchor="middle" font-weight="bold">153</text>
<text x="919.9" y="2295.9" font-size="24" fill="#fff" text-anchor="middle" font-weight="bold">5.5</text>
<text x="1001.8" y="2295.9" font-size="24" fill="#fff" text-anchor="middle" font-weight="bold">4.8</text>
<rect x="1079.3" y="2188.8" width="74.5" height="52.5" fill="#4D5056"/>
<rect x="1155.7" y="2188.8" width="74.9" height="52.5" fill="#00148A"/>
<rect x="1079.3" y="2249.6" width="74.5" height="72.7" fill="#4D5056"/>
<rect x="1155.7" y="2249.6" width="74.9" height="72.7" fill="#00148A"/>
<text x="1116.5" y="2224.8" font-size="24" fill="#fff" text-anchor="middle" font-weight="bold">77</text>
<text x="1193.2" y="2224.8" font-size="24" fill="#fff" text-anchor="middle" font-weight="bold">148</text>
<text x="1116.5" y="2295.9" font-size="24" fill="#fff" text-anchor="middle" font-weight="bold">35.1</text>
<text x="1193.2" y="2295.9" font-size="24" fill="#fff" text-anchor="middle" font-weight="bold">26.1</text>
<rect x="1258.3" y="2188.8" width="79.8" height="52.5" fill="#6C7DFF"/>
<rect x="1340.0" y="2188.8" width="80.2" height="52.5" fill="#00148A"/>
<rect x="1258.3" y="2249.0" width="79.8" height="73.3" fill="#6C7DFF"/>
<rect x="1340.0" y="2249.0" width="80.2" height="73.3" fill="#00148A"/>
<text x="1298.2" y="2224.8" font-size="24" fill="#fff" text-anchor="middle" font-weight="bold">75</text>
<text x="1380.1" y="2224.8" font-size="24" fill="#fff" text-anchor="middle" font-weight="bold">143</text>
<text x="1298.2" y="2295.9" font-size="24" fill="#fff" text-anchor="middle" font-weight="bold">20.2</text>
<text x="1380.1" y="2295.9" font-size="24" fill="#fff" text-anchor="middle" font-weight="bold">22.9</text>
<rect x="1457.7" y="2188.8" width="74.5" height="52.5" fill="#4D5056"/>
<rect x="1534.1" y="2188.8" width="74.9" height="52.5" fill="#00148A"/>
<rect x="1457.7" y="2249.6" width="74.5" height="72.7" fill="#4D5056"/>
<rect x="1534.1" y="2249.6" width="74.9" height="72.7" fill="#00148A"/>
<text x="1495.0" y="2224.8" font-size="24" fill="#fff" text-anchor="middle" font-weight="bold">108</text>
<text x="1571.5" y="2224.8" font-size="24" fill="#fff" text-anchor="middle" font-weight="bold">210</text>
<text x="1495.0" y="2295.9" font-size="24" fill="#fff" text-anchor="middle" font-weight="bold">39.3</text>
<text x="1571.5" y="2295.9" font-size="24" fill="#fff" text-anchor="middle" font-weight="bold">29.4</text>
<rect x="1636.5" y="2188.8" width="80.2" height="52.5" fill="#6C7DFF"/>
<rect x="1718.6" y="2188.8" width="79.8" height="52.5" fill="#00148A"/>
<rect x="1636.5" y="2249.0" width="80.2" height="73.3" fill="#6C7DFF"/>
<rect x="1718.6" y="2249.0" width="79.8" height="73.3" fill="#00148A"/>
<text x="1676.6" y="2224.8" font-size="24" fill="#fff" text-anchor="middle" font-weight="bold">102</text>
<text x="1758.5" y="2224.8" font-size="24" fill="#fff" text-anchor="middle" font-weight="bold">196</text>
<text x="1676.6" y="2295.9" font-size="24" fill="#fff" text-anchor="middle" font-weight="bold">21.6</text>
<text x="1758.5" y="2295.9" font-size="24" fill="#fff" text-anchor="middle" font-weight="bold">24.0</text>
<g class="fn">
<text transform="translate(22 2435.4) scale(0.978 1)" word-spacing="2.35">Randomized set. OC data reported. Error bars represent 95% CI. WPAI-SHP item scores are expressed as a</text>
<text transform="translate(22 2487.0) scale(0.978 1)" word-spacing="0.39">percentage, with a greater reduction indicating greater improvement. Week 16 nominal p values are calculated using</text>
<text transform="translate(22 2538.6) scale(0.978 1)" word-spacing="2.19">ANCOVA with baseline WPAI-SHP item score as covariate and treatment, region and either MRI/CRP classification at</text>
<text transform="translate(22 2590.3) scale(0.978 1)" word-spacing="1.70">baseline (nr-axSpA) or prior TNF inhibitor exposure (r-axSpA) as fixed effects. [a] Absenteeism, presenteeism, and</text>
<text transform="translate(22 2641.9) scale(0.978 1)" word-spacing="1.04">overall work impairment were assessed only in patients who were employed at baseline. [b] Impairment while at paid</text>
<text transform="translate(22 2693.5) scale(0.978 1)" word-spacing="1.34">work due to axSpA; [c] Work time missed due to axSpA. [d] Overall work impairment is a composite of absenteeism</text>
<text transform="translate(22 2745.1) scale(0.978 1)" word-spacing="1.63">and presenteeism. ANCOVA: analysis of covariance; axSpA: axial spondyloarthritis; BKZ: bimekizumab; CfB: change</text>
<text transform="translate(22 2796.7) scale(0.978 1)" word-spacing="3.12">from baseline; CI: confidence interval; CRP: C-reactive protein; MRI: magnetic resonance imaging; nr-axSpA: non-</text>
<text transform="translate(22 2848.4) scale(0.978 1)" word-spacing="2.82">radiographic axSpA; OC: observed case; PBO: placebo; Q4W: every 4 weeks; r-axSpA: radiographic axSpA; TNF:</text>
<text transform="translate(22 2900.0) scale(0.978 1)" word-spacing="2.61">tumor necrosis factor; WPAI-SHP: Work Productivity and Activity Impairment Specific Health Problem.</text>
</g>
</svg>
</body></html>
